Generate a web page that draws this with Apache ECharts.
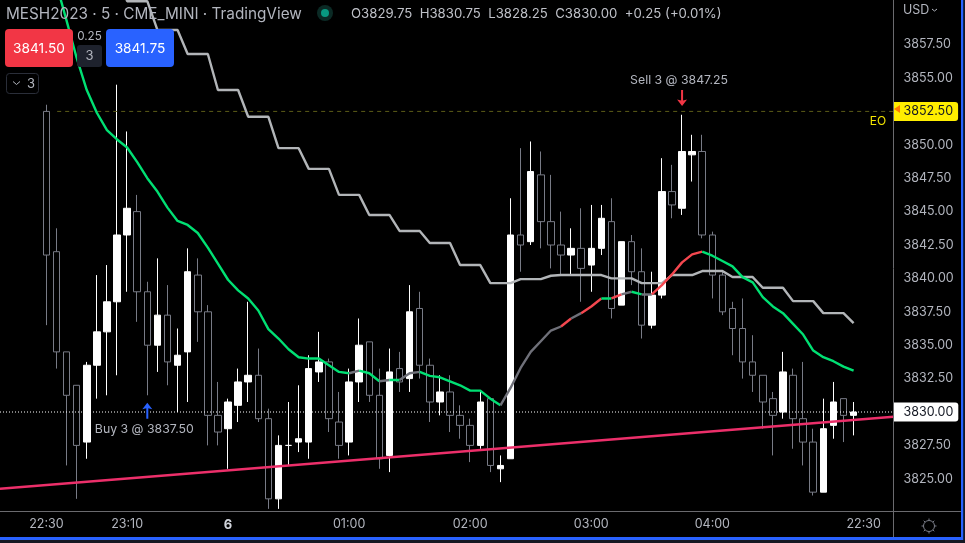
<!DOCTYPE html>
<html><head><meta charset="utf-8">
<style>html,body{margin:0;padding:0;background:#000;overflow:hidden}#c{width:965px;height:543px}</style>
<script src="https://cdn.jsdelivr.net/npm/echarts@6/dist/echarts.min.js"></script>
</head><body><div id="c"></div>
<script>
const LEAD = 4, TRAIL = 4;
const opens = [3852.5,3842,3834.5,3832,3827.75,3833.5,3836,3838.25,3843.25,3845,3839,3835,3837.25,3833.5,3834.5,3840.25,3837.5,3829.75,3828.75,3830.5,3832.25,3832.75,3829.5,3823.5,3827.5,3827.75,3827.75,3833,3833.75,3829.25,3827.75,3832.25,3835.25,3831.25,3826.75,3833.25,3832.5,3837.75,3833.5,3830.75,3831.5,3829.75,3829,3827.5,3831,3825.75,3826.5,3843.25,3842.75,3847.75,3844.25,3842.5,3841.75,3842.25,3841,3842.25,3844.25,3838,3842.75,3840.5,3836.5,3838.75,3846.5,3845.25,3849.25,3849.5,3843.25,3840.25,3837.75,3836.25,3833.75,3832.75,3831,3830,3832.75,3829.5,3827.75,3824,3829,3831,3829.75];
const closes = [3841.75,3834.5,3831.25,3827.5,3833.5,3836,3838.25,3843.25,3845.25,3839,3835,3837.25,3833.75,3834.25,3840.5,3837.5,3829.75,3828.5,3830.75,3832.25,3832.75,3829.5,3823.5,3827.5,3827.5,3828,3833.25,3833.75,3829.5,3827.5,3832.25,3835,3831.25,3826.5,3833,3832.25,3837.5,3833.5,3830.75,3831.5,3829.75,3829,3827.5,3830.75,3826,3826,3843.25,3842.5,3848,3844.25,3842.5,3841.75,3842.25,3840.75,3842.25,3844.5,3837.75,3842.75,3840.5,3836.5,3838.75,3846.5,3845.5,3849.5,3849.5,3843.25,3840.25,3837.5,3836.25,3833.75,3832.75,3830.75,3829.75,3833,3829.5,3827.75,3824,3828.75,3830.75,3829.75,3830];
const lows = [3836.5,3833.25,3826,3823.5,3826.5,3831,3831.25,3832.75,3839,3836.75,3831.25,3833,3832,3830,3830.75,3835.25,3827.5,3827.5,3825.75,3829.25,3830.75,3829.25,3822.75,3822.75,3826,3827,3826.5,3832.25,3828.5,3826.5,3826.75,3830.75,3830.75,3825.75,3825.5,3831.5,3831.5,3832.5,3829.25,3829.75,3828.5,3828,3826.25,3827.25,3825.5,3824.75,3826.5,3840.5,3842.5,3842.25,3840.75,3840.25,3840.25,3838.25,3839,3841.75,3837,3838,3839.5,3835.5,3836.25,3838.5,3844.5,3844.75,3847.25,3843,3838.5,3837.25,3834.25,3832.5,3831.5,3828.75,3826.75,3829.5,3827.25,3826,3823.75,3824,3828,3827.75,3828.25];
const highs = [3853,3843.75,3834.5,3832,3833.75,3840.25,3841,3854.5,3851,3846.25,3839.75,3841.5,3839.5,3836.25,3842.25,3841.5,3838,3832.25,3831,3833.25,3838.25,3834.75,3830.25,3828.25,3830.75,3832,3834.25,3836,3834,3831.5,3833.25,3837,3835.25,3833.25,3834.75,3834.5,3839.5,3839,3834,3832.75,3832.75,3830.5,3829.5,3831.5,3831,3826.75,3846,3849.75,3850.25,3849.5,3847.75,3845,3843.75,3845.25,3845.5,3845.5,3846,3842.75,3843.25,3842.25,3840.5,3849,3848.5,3852.25,3850.75,3850.75,3843.5,3840.5,3838.25,3838.5,3835.75,3832.75,3831.5,3834.5,3833.25,3833.75,3828.75,3831,3832.25,3831,3830.75];
const emaValues = [3864.6,3862,3859.3,3856.5,3854.1,3852.4,3851.1,3850.4,3849.8,3848.7,3847.5,3846.5,3845.3,3844.3,3844,3843.4,3842.3,3841.1,3839.9,3839.1,3838.5,3837.6,3836.2,3835.5,3834.7,3834.1,3834,3834,3833.5,3833,3832.9,3833.1,3832.9,3832.3,3832.4,3832.4,3832.9,3833,3832.7,3832.6,3832.3,3832,3831.6,3831.6,3831,3830.5,3831.8,3833.3,3834.5,3835.3,3836.1,3836.4,3837,3837.4,3837.9,3838.5,3838.5,3838.8,3839,3838.8,3838.8,3839.5,3840.3,3841.2,3841.8,3842,3841.7,3841.3,3840.9,3840.1,3839.7,3838.6,3837.9,3837.4,3836.6,3835.8,3834.6,3834.1,3833.8,3833.4,3833.1];
const emaRuns = [[0,30,'up'],[30,31,'flat'],[31,33,'up'],[33,34,'flat'],[34,35,'up'],[35,37,'flat'],[37,45,'up'],[45,51,'flat'],[51,52,'down'],[52,53,'flat'],[53,55,'down'],[55,56,'up'],[56,57,'down'],[57,58,'flat'],[58,59,'up'],[59,60,'flat'],[60,65,'down'],[65,80,'up']];
const emaColors = {up:'#00e073', flat:'#6f7079', down:'#f4474f'};
const stepValues = [3867,3867,3865,3865,3865,3863,3863,3863,3860.75,3860.75,3860.75,3858.6,3858.6,3858.6,3856.8,3856.8,3856.8,3854.1,3854.1,3854.1,3852.1,3852.1,3852.1,3849.75,3849.75,3849.75,3848.2,3848.2,3848.2,3846.25,3846.25,3846.25,3844.75,3844.75,3844.75,3843.55,3843.55,3843.55,3842.65,3842.65,3842.65,3841,3841,3841,3839.65,3839.65,3839.65,3839.95,3839.95,3839.95,3840.2,3840.25,3840.25,3840.25,3840.25,3840.25,3840,3840,3840,3839.65,3839.65,3839.65,3840.25,3840.25,3840.25,3840.55,3840.55,3840.55,3840.1,3840.1,3840.1,3839.3,3839.3,3839.3,3838.3,3838.3,3838.3,3837.4,3837.4,3837.4,3836.65];
const timeLabels = {0:'22:30',8:'23:10',18:'6',30:'01:00',42:'02:00',54:'03:00',66:'04:00',81:'22:30'};
const trendLine = [3824.25,3829.65];
const lastPrice = 3830, eoPrice = 3852.5;
const buyMark = {bar:10, price:3830.1, text:'Buy 3 @ 3837.50'};
const sellMark = {bar:63, price:3853.5, text:'Sell 3 @ 3847.25'};
const headerTitle = 'MESH2023 · 5 · CME_MINI · TradingView';
const headerOHLC = 'O3829.75  H3830.75  L3828.25  C3830.00  +0.25 (+0.01%)';
const bidText='3841.50', askText='3841.75', spreadText='0.25', qtyText='3';

const FONT='Inter', TXT='#b2b5be', AX='#6a6a6e';
const n = opens.length, total = LEAD+n+TRAIL;
const pad = a => Array(LEAD).fill('-').concat(a, Array(TRAIL).fill('-'));
const cats = Array.from({length:total},(_,i)=>{const k=i-LEAD;return timeLabels[k]||'';});
const candleData = pad(opens.map((o,i)=>[o,closes[i],lows[i],highs[i]]));
const YMIN=3822.5,YMAX=3860.84, GT=0, GH=512.2;
const arrow='path://M5 0 L10 6.5 L6 5.5 L6 16 L4 16 L4 5.5 L0 6.5 Z';
const arrowD='path://M5 16 L10 9.5 L6 10.5 L6 0 L4 0 L4 10.5 L0 9.5 Z';

const series=[{
  type:'candlestick',xAxisIndex:0,yAxisIndex:0,data:candleData,barWidth:7,z:2,
  itemStyle:{color:'#ffffff',color0:'#000000',borderColor:'#ffffff',borderColor0:'#787b86',borderWidth:1},
  markPoint:{silent:true,animation:false,data:[
    {coord:[buyMark.bar+LEAD,buyMark.price],symbol:arrow,symbolSize:[10,16],itemStyle:{color:'#2962ff'},
     label:{show:true,formatter:buyMark.text,position:'inside',offset:[-3,19],color:TXT,fontFamily:FONT,fontSize:12.3}},
    {coord:[sellMark.bar+LEAD,sellMark.price],symbol:arrowD,symbolSize:[10,16],itemStyle:{color:'#f23645'},
     label:{show:true,formatter:sellMark.text,position:'inside',offset:[-3,-18],color:TXT,fontFamily:FONT,fontSize:12.3}}
  ]}
},{
  type:'line',xAxisIndex:1,yAxisIndex:1,data:[[0,lastPrice],[1,lastPrice]],showSymbol:false,silent:true,z:3,
  lineStyle:{color:'#ffffff',width:1,type:[1,2]}
},{
  type:'line',xAxisIndex:1,yAxisIndex:1,data:[[0.064,eoPrice],[1,eoPrice]],showSymbol:false,silent:true,z:3,
  lineStyle:{color:'#5c5c18',width:1,type:[4,4]}
},{
  type:'line',xAxisIndex:0,yAxisIndex:0,data:pad(stepValues),showSymbol:false,silent:true,z:4,
  lineStyle:{color:'#b2b5b8',width:2.4}
}];
emaRuns.forEach(([a,b,k])=>{
  series.push({type:'line',xAxisIndex:0,yAxisIndex:0,showSymbol:false,silent:true,z:5,
    data:pad(emaValues.map((v,i)=>(i>=a&&i<=b)?v:'-')),lineStyle:{color:emaColors[k],width:2.4}});
});
series.push({type:'line',xAxisIndex:1,yAxisIndex:1,data:[[0,trendLine[0]],[1,trendLine[1]]],showSymbol:false,silent:true,z:6,
  lineStyle:{color:'#ec2f6a',width:2.4}});

const t=(x,y,s,o={})=>({type:'text',x,y,z:20,silent:true,style:Object.assign({text:s,fill:TXT,fontFamily:FONT,fontSize:13,textVerticalAlign:'middle',textAlign:'left'},o)});
const r=(x,y,w,h,fill,rad,o={})=>({type:'rect',x,y,z:19,silent:true,shape:{width:w,height:h,r:rad||0},style:Object.assign({fill},o)});
const gx=929,gy=526;
const gearTicks=[];
for(let a=0;a<8;a++){const c=Math.cos(a*Math.PI/4),s=Math.sin(a*Math.PI/4);
  gearTicks.push({type:'line',z:19,silent:true,shape:{x1:gx+5.5*c,y1:gy+5.5*s,x2:gx+7.5*c,y2:gy+7.5*s},style:{stroke:'#7a7d88',lineWidth:1}});}

const graphic=[
  t(6,14,headerTitle,{fontSize:15.3}),
  {type:'circle',z:19,silent:true,shape:{cx:325,cy:13,r:8},style:{fill:'#0b2a25'}},
  {type:'circle',z:20,silent:true,shape:{cx:325,cy:13,r:4},style:{fill:'#089981'}},
  t(351,14,headerOHLC,{fontSize:13.2,fill:'#bfc1c8'}),
  r(5,29,68,38,'#f23645',4),
  t(39,48.5,bidText,{fill:'#fff',textAlign:'center',fontSize:13.7}),
  r(106,29,68,38,'#2962ff',4),
  t(140,48.5,askText,{fill:'#fff',textAlign:'center',fontSize:13.7}),
  t(89.5,36,spreadText,{textAlign:'center',fontSize:11.7}),
  r(77,45,25,22,'#1e222d',3),
  t(89.5,56.5,qtyText,{textAlign:'center',fontSize:13}),
  r(6.5,73.5,32,20,'#000',3,{stroke:'#2a2e39',lineWidth:1}),
  {type:'polyline',z:20,silent:true,shape:{points:[[13,81.5],[16.5,84.5],[20,81.5]]},style:{stroke:TXT,fill:null,lineWidth:1}},
  t(27,84,qtyText,{fontSize:13}),
  t(903,10.5,'USD',{fontSize:12.5}),
  {type:'polyline',z:20,silent:true,shape:{points:[[932,9],[934.5,11],[937,9]]},style:{stroke:TXT,fill:null,lineWidth:1}},
  t(878,121,'EO',{fill:'#f5e600',textAlign:'center',fontSize:12}),
  {type:'polygon',z:20,silent:true,shape:{points:[[894,109],[900,105],[900,113]]},style:{fill:'#ff7a00'}},
  {type:'line',z:18,silent:true,shape:{x1:893.5,y1:0,x2:893.5,y2:537},style:{stroke:AX,lineWidth:1}},
  {type:'line',z:18,silent:true,shape:{x1:0,y1:511.5,x2:961,y2:511.5},style:{stroke:AX,lineWidth:1}},
  {type:'circle',z:19,silent:true,shape:{cx:gx,cy:gy,r:5.5},style:{fill:'none',stroke:'#7a7d88',lineWidth:1}},
  ...gearTicks,
  r(0,537,963,3,'#2962ff'),
  r(961,0,2.5,540,'#2962ff'),
  r(0,540,965,3,'#151823'),
  r(963.5,0,1.5,543,'#151823')
];

const chart=echarts.init(document.getElementById('c'),null,{renderer:'canvas'});
chart.setOption({
  animation:false,backgroundColor:'#000',
  grid:[{left:1,top:GT,width:898,height:GH},{left:0,top:GT,width:893.5,height:GH}],
  xAxis:[{type:'category',gridIndex:0,data:cats,boundaryGap:true,axisLine:{show:false},axisTick:{show:false},splitLine:{show:false},
      axisLabel:{interval:0,hideOverlap:false,margin:6,color:TXT,fontFamily:FONT,fontSize:12.5,
        formatter:v=>v==='6'?'{b|6}':v,rich:{b:{fontWeight:'bold',color:'#d1d4dc',fontFamily:FONT,fontSize:13}}}},
    {type:'value',gridIndex:1,min:0,max:1,show:false}],
  yAxis:[{type:'value',gridIndex:0,min:YMIN,max:YMAX,interval:2.5,show:false},
    {type:'value',gridIndex:1,position:'right',min:YMIN,max:YMAX,interval:2.5,axisLine:{show:false},axisTick:{show:false},splitLine:{show:false},
      axisLabel:{margin:0,showMinLabel:true,showMaxLabel:true,color:TXT,fontFamily:FONT,fontSize:12.5,
        formatter:v=>{
          if(v<3825||v>3857.5) return '';
          const s=v.toFixed(2);
          if(v===lastPrice) return `{cur|${s}}`;
          if(v===eoPrice) return `{eo|${s}}`;
          return `{n|${s}}`;
        },
        rich:{
          n:{color:TXT,fontFamily:FONT,fontSize:12.5,padding:[0,0,0,10]},
          cur:{color:'#131722',backgroundColor:'#fff',fontFamily:FONT,fontSize:12.5,padding:[3,5,3,10],borderRadius:[0,3,3,0]},
          eo:{color:'#131722',backgroundColor:'#ffee00',fontFamily:FONT,fontSize:12.5,padding:[3,5,3,10],borderRadius:[0,3,3,0]}
        }}}],
  series,graphic
});
</script></body></html>
